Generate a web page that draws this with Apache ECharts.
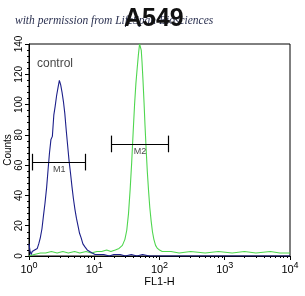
<!DOCTYPE html>
<html><head><meta charset="utf-8">
<script src="https://cdn.jsdelivr.net/npm/echarts@6/dist/echarts.min.js"></script>
<style>html,body{margin:0;padding:0;background:#fff}#c{width:305px;height:296px}</style>
</head><body><div id="c"></div>
<script>
var controlX = [1.0, 1.04, 1.08, 1.12, 1.17, 1.22, 1.28, 1.34, 1.41, 1.49, 1.58, 1.67, 1.76, 1.86, 1.96, 2.06, 2.17, 2.28, 2.40, 2.52, 2.65, 2.78, 2.92, 3.06, 3.21, 3.37, 3.54, 3.72, 3.91, 4.11, 4.32, 4.55, 4.79, 5.05, 5.33, 5.63, 5.95, 6.3, 6.7, 7.2, 7.8, 8.5, 9.3, 10.3, 12, 14, 17, 20, 25, 30, 37, 45, 55, 70, 90, 120, 200, 400, 1000, 3000, 10000];
var controlY = [8, 3, 1, 3, 2, 4, 5, 5, 8, 12, 18, 27, 35, 45, 57, 68, 77, 79, 93, 99, 106, 111, 116, 113, 108, 102, 94, 83, 73, 63, 55, 46, 38, 31, 25, 20, 15, 12, 8, 6, 4, 3, 2, 1, 1, 1, 0, 1, 1, 0, 1, 0, 1, 0, 0, 0, 0, 0, 0, 0, 0];
var sampleX = [1.0, 1.2, 1.5, 1.8, 2.2, 2.7, 3.3, 4, 5, 6, 7.5, 9, 11, 13, 15.5, 18, 21, 24, 27, 29.5, 31.5, 33.5, 35.5, 37.5, 39.5, 41.5, 43.5, 45.5, 47.5, 49.5, 51, 52.5, 54, 56, 58, 60, 62.5, 65, 68, 71, 74.5, 78, 82, 87, 93, 100, 110, 125, 150, 200, 300, 500, 800, 1300, 2000, 3000, 5000, 7000, 10000];
var sampleY = [0, 1, 2, 2, 3, 2, 3, 2, 3, 2, 3, 2, 3, 3, 4, 3, 4, 5, 7, 11, 17, 28, 44, 62, 82, 100, 114, 124, 133, 140, 140, 136, 128, 115, 101, 86, 70, 56, 43, 32, 23, 16, 11, 7, 5, 4, 3, 3, 3, 2, 3, 2, 3, 2, 3, 2, 3, 2, 2];
// gate markers: [name, xStart, xEnd, level]
var gateM1 = ['M1', 1.14, 7.4, 62];
var gateM2 = ['M2', 18.3, 138, 74];
var capHalf = 5.5;
var yTicks = [0, 20, 40, 60, 80, 100, 120, 140];
var xMinorTicks = [];
[1, 10, 100, 1000].forEach(function (d) { for (var k = 2; k <= 9; k++) xMinorTicks.push(k * d); });

function zip(a, b) { return a.map(function (v, i) { return [v, b[i]]; }); }
function gateLines(g) {
  return [
    [{coord: [g[1], g[3]]}, {coord: [g[2], g[3]]}],
    [{coord: [g[1], g[3] - capHalf]}, {coord: [g[1], g[3] + capHalf]}],
    [{coord: [g[2], g[3] - capHalf]}, {coord: [g[2], g[3] + capHalf]}]
  ];
}
function gateMid(g) { return Math.sqrt(g[1] * g[2]); }

var chart = echarts.init(document.getElementById('c'), null, {renderer: 'canvas'});
var font = 'Liberation Sans';
chart.setOption({
  animation: false,
  backgroundColor: '#fff',
  title: [
    {text: 'with permission from LifeSpan Biosciences', left: 10, top: 10,
     textStyle: {fontFamily: 'Liberation Serif', fontStyle: 'italic', fontWeight: 'normal', fontSize: 11.5, color: '#2a3050'}},
    {text: 'A549', left: 119, top: 2,
     textStyle: {fontFamily: font, fontWeight: 'bold', fontSize: 25, color: '#111'}}
  ],
  grid: {left: 29, right: 15, top: 44, bottom: 40, outerBoundsMode: 'none', containLabel: false,
         show: true, borderColor: '#000', borderWidth: 1, backgroundColor: '#fff'},
  xAxis: [{
    type: 'log', logBase: 10, min: 1, max: 10000,
    name: 'FL1-H', nameLocation: 'middle', nameGap: 20, nameMoveOverlap: false,
    nameTextStyle: {fontFamily: font, fontSize: 11, color: '#000'},
    axisLine: {lineStyle: {color: '#000', width: 1}},
    axisTick: {show: true, length: 4, lineStyle: {color: '#000'}},
    splitLine: {show: false},
    axisLabel: {
      margin: 5, color: '#000', fontFamily: font, fontSize: 11,
      formatter: function (v) { return '{b|10}{s|' + Math.round(Math.log10(v)) + '}'; },
      rich: {b: {fontFamily: font, fontSize: 11, color: '#000'},
             s: {fontFamily: font, fontSize: 9, color: '#000', padding: [0, 0, 8, 0]}}
    }
  }, {
    type: 'log', logBase: 10, min: 1, max: 10000, position: 'bottom',
    axisLine: {show: false}, splitLine: {show: false},
    axisLabel: {show: false},
    axisTick: {show: true, length: 2, customValues: xMinorTicks, lineStyle: {color: '#000'}}
  }],
  yAxis: {
    type: 'value', min: 0, max: 140, interval: 20,
    name: 'Counts', nameLocation: 'middle', nameGap: 16, nameRotate: 90, nameMoveOverlap: false,
    nameTextStyle: {fontFamily: font, fontSize: 10, color: '#000'},
    axisLine: {show: true, lineStyle: {color: '#000'}},
    axisTick: {show: true, length: 4, lineStyle: {color: '#000'}},
    minorTick: {show: true, splitNumber: 5, length: 2, lineStyle: {color: '#000'}},
    splitLine: {show: false},
    axisLabel: {rotate: 90, margin: 5, color: '#000', fontFamily: font, fontSize: 10,
      customValues: yTicks}
  },
  series: [{
    name: 'control', type: 'line', data: zip(controlX, controlY), showSymbol: false,
    lineStyle: {color: '#1c1f8a', width: 1.1}, z: 3,
    markLine: {silent: true, symbol: ['none', 'none'], label: {show: false},
      lineStyle: {color: '#000', width: 1.2, type: 'solid'}, data: gateLines(gateM1).concat(gateLines(gateM2))}
  }, {
    name: 'sample', type: 'line', data: zip(sampleX, sampleY), showSymbol: false,
    lineStyle: {color: '#4fd64f', width: 1.1}, z: 2
  }, {
    name: 'labels', type: 'scatter', symbolSize: 0, silent: true, z: 5,
    data: [
      {value: [gateMid(gateM1), gateM1[3] - 5], label: {formatter: gateM1[0]}},
      {value: [gateMid(gateM2), gateM2[3] - 5], label: {formatter: gateM2[0]}},
      {value: [2.5, 127], label: {formatter: 'control', fontSize: 12}}
    ],
    label: {show: true, position: 'inside', color: '#111', fontFamily: font, fontSize: 9}
  }]
});
</script></body></html>
